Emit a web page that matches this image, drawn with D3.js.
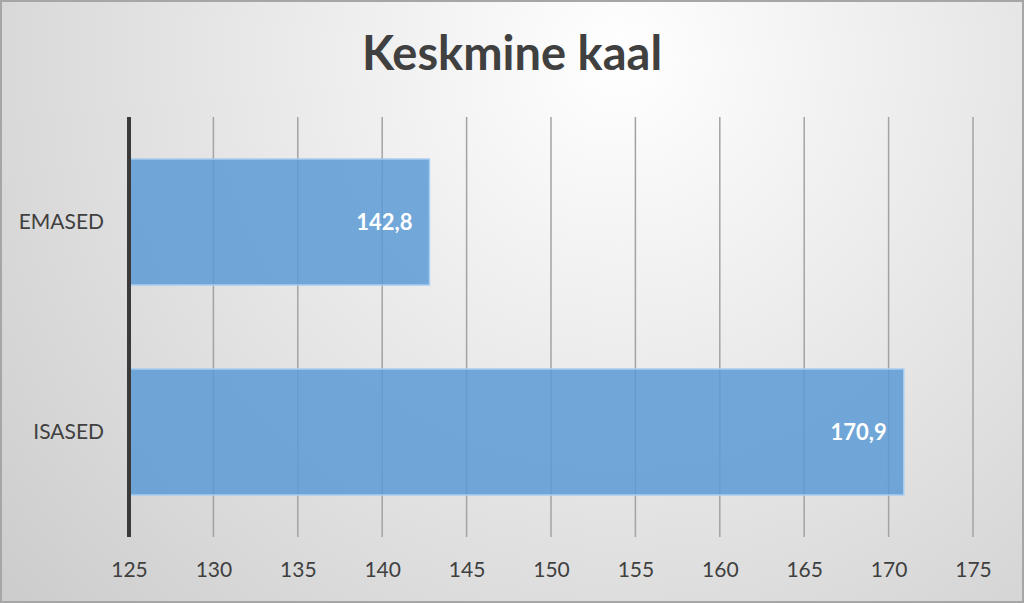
<!DOCTYPE html>
<html>
<head>
<meta charset="utf-8">
<script src="https://cdn.jsdelivr.net/npm/d3@7"></script>
<style>
  html, body { margin: 0; padding: 0; background: #fff; }
  svg { display: block; font-family: Lato, "Open Sans", sans-serif; }
</style>
</head>
<body>
<svg id="chart" width="1024" height="603"></svg>
<script>
const categories = ["EMASED", "ISASED"];
const values = [142.8, 170.9];
const valueLabels = ["142,8", "170,9"];
const tickValues = [125, 130, 135, 140, 145, 150, 155, 160, 165, 170, 175];

const svg = d3.select("#chart");
const W = 1024, H = 603;
const margin = { left: 129, right: 51, top: 117, bottom: 66 };

// Background gradient + border
const defs = svg.append("defs");
const grad = defs.append("radialGradient")
  .attr("id", "bg")
  .attr("gradientUnits", "userSpaceOnUse")
  .attr("cx", 620).attr("cy", 60).attr("r", 820);
grad.append("stop").attr("offset", "0%").attr("stop-color", "#ffffff");
grad.append("stop").attr("offset", "100%").attr("stop-color", "#cccccc");

svg.append("rect")
  .attr("x", 1).attr("y", 1)
  .attr("width", W - 2).attr("height", H - 2)
  .attr("fill", "url(#bg)")
  .attr("stroke", "#a6a6a6")
  .attr("stroke-width", 2);

// Title
svg.append("text")
  .attr("x", W / 2).attr("y", 70)
  .attr("text-anchor", "middle")
  .attr("font-size", 47)
  .attr("font-weight", "bold")
  .attr("fill", "#404040")
  .text("Keskmine kaal");

// Scales
const x = d3.scaleLinear()
  .domain([125, 175])
  .range([margin.left, W - margin.right]);

const y = d3.scaleBand()
  .domain(categories)
  .range([margin.top, H - margin.bottom])
  .paddingInner(0.4)
  .paddingOuter(0.2);

// Gridlines
svg.append("g")
  .selectAll("line")
  .data(tickValues.slice(1))
  .join("line")
  .attr("x1", d => x(d)).attr("x2", d => x(d))
  .attr("y1", margin.top).attr("y2", H - margin.bottom)
  .attr("stroke", "#a3a3a3")
  .attr("stroke-width", 1.5);

// Bars
svg.append("g")
  .selectAll("rect")
  .data(values)
  .join("rect")
  .attr("x", x(125))
  .attr("y", (d, i) => y(categories[i]))
  .attr("width", d => x(d) - x(125))
  .attr("height", y.bandwidth())
  .attr("fill", "#5b9bd5")
  .attr("fill-opacity", 0.85)
  .attr("stroke", "#a9cdef")
  .attr("stroke-width", 1.5);

// Value labels
svg.append("g")
  .selectAll("text")
  .data(values)
  .join("text")
  .attr("x", d => x(d) - 17)
  .attr("y", (d, i) => y(categories[i]) + y.bandwidth() / 2)
  .attr("dy", "0.35em")
  .attr("text-anchor", "end")
  .attr("font-size", 22)
  .attr("font-weight", "bold")
  .attr("fill", "#ffffff")
  .text((d, i) => valueLabels[i]);

// Category axis line
svg.append("line")
  .attr("x1", x(125)).attr("x2", x(125))
  .attr("y1", margin.top).attr("y2", H - margin.bottom)
  .attr("stroke", "#3a3a3a")
  .attr("stroke-width", 4);

// Category labels
svg.append("g")
  .selectAll("text")
  .data(categories)
  .join("text")
  .attr("x", 104)
  .attr("y", d => y(d) + y.bandwidth() / 2)
  .attr("dy", "0.35em")
  .attr("text-anchor", "end")
  .attr("font-size", 21)
  .attr("fill", "#404040")
  .text(d => d);

// X tick labels
const xAxis = d3.axisBottom(x)
  .tickValues(tickValues)
  .tickSize(0)
  .tickPadding(0);
const gx = svg.append("g")
  .attr("transform", `translate(0,${H - margin.bottom + 25})`)
  .call(xAxis);
gx.select(".domain").remove();
gx.selectAll("text")
  .attr("font-family", "Lato, 'Open Sans', sans-serif")
  .attr("font-size", 21)
  .attr("fill", "#404040");
</script>
</body>
</html>
